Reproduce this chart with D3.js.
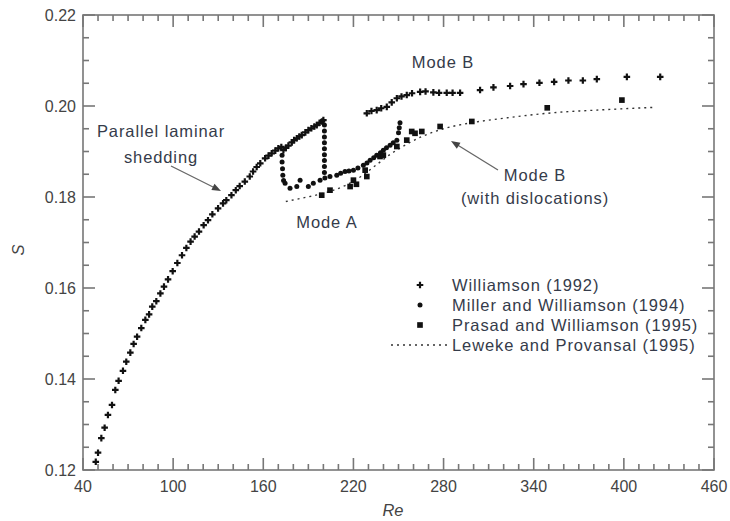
<!DOCTYPE html>
<html>
<head>
<meta charset="utf-8">
<script src="https://cdn.jsdelivr.net/npm/d3@7"></script>
<style>
  body { margin: 0; background: #fff; }
  text { font-family: "Liberation Sans", Arial, sans-serif; }
</style>
</head>
<body>
<div id="chart"></div>
<script>

// Williamson (1992) - laminar branch, upper mode A, mode B
var williamson92 = [
  [48.5,.1218],[50,.1238],[52.2,.1270],[54.4,.1293],[56.6,.1321],[59.3,.1343],[61.5,.1376],
  [63.7,.1396],[66.6,.1418],[68.8,.1438],[71.5,.1458],[73.7,.1477],[76,.1493],[78.8,.1512],
  [81.5,.1530],[84,.1542],[86.1,.1559],[88.8,.1571],[91.5,.1588],[93.9,.1603],[96.6,.1619],
  [99.7,.1637],[102.8,.1655],[105.9,.1672],[108.8,.1688],[111.6,.1702],[114.3,.1713],
  [117.2,.1724],[120.3,.1738],[123.2,.1749],[126.1,.1762],[129.9,.1775],[133.2,.1786],
  [135.4,.1793],[138.8,.1804],[141.7,.1815],[144.3,.1824],[147.7,.1834],[151,.1845],
  [153.2,.1856],[155.6,.1866],[158,.1874],[161.2,.1885],[163.5,.1891],[165.6,.1896],
  [168,.1902],[170,.1907],[172,.1910],
  [173.4,.1903],[175,.1908],[176.7,.1913],[179,.1920],[180.5,.1925],[182.3,.1929],[184,.1933],
  [185.6,.1936],[188,.1942],[190,.1947],[192,.1951],[194,.1955],[195.6,.1958],[197.5,.1963],
  [199,.1966],[200,.1969],
  [228.9,.1984],[232,.1989],[235.5,.1991],[238.5,.1995],[242.2,.1998],[245.5,.2008],
  [248.9,.2017],[252,.2021],[255.5,.2024],[259,.2028],[264.4,.2031],[268,.2032],[273.2,.2030],
  [277,.2029],[282.1,.2029],[286,.2029],[291,.2029],
  [304.3,.2035],[313.2,.2041],[324.3,.2044],[333.2,.2048],[343.8,.2051],[353.6,.2053],
  [363.1,.2056],[372.7,.2056],[382,.2059],[402,.2064],[424.2,.2064]
];

// Miller and Williamson (1994) - transitions and lower mode A branch
var miller94 = [
  [172.5,.1892],[172.5,.1877],[172.8,.1862],[173,.1848],[173.5,.1836],
  [174.5,.1830],[177.8,.1819],[182.3,.1823],[184.5,.1837],[190,.1823],[193.3,.1830],
  [197.8,.1837],[201,.1842],[204.4,.1845],[208.9,.1848],[211.5,.1852],[214.4,.1856],
  [217,.1857],[220,.1859],[223,.1864],[226.6,.1870],[229,.1875],[231.1,.1881],
  [233.5,.1886],[235.5,.1892],[238,.1897],[239.9,.1903],[242,.1908],[244.4,.1914],
  [246.5,.1919],[248.9,.1925],
  [200.7,.1958],[200.7,.1945],[200.7,.1932],[200.7,.1919],[200.7,.1906],[200.7,.1893],
  [200.7,.1880],[200.7,.1867],[200.7,.1854],
  [250,.1941],[250.5,.1952],[251,.1963]
];

// Prasad and Williamson (1995) - mode B with dislocations
var prasad95 = [
  [198.9,.1804],[204.4,.1815],[217.8,.1823],[220,.1837],[222,.1828],[228.9,.1845],
  [227.8,.1859],[237.7,.1889],[239.9,.1892],[248.9,.1911],[255.5,.1925],[258.8,.1944],
  [261,.1940],[265.5,.1944],[277.7,.1955],[298.8,.1966],[349,.1996],[398.7,.2013]
];

// Leweke and Provansal (1995) - fit line
var leweke95 = [
  [175,.1790],[185,.1797],[195,.1804],[205,.1813],[215,.1826],[225,.1845],[235,.1870],
  [245,.1895],[255,.1915],[265,.1932],[280,.1950],[300,.1964],[320,.1973],[340,.1981],
  [360,.1987],[382,.1991],[400,.1994],[420,.1997]
];

var xTicks = [40, 100, 160, 220, 280, 340, 400, 460];
var yTicks = [0.12, 0.14, 0.16, 0.18, 0.20, 0.22];

var legendNames = ["Williamson (1992)", "Miller and Williamson (1994)",
  "Prasad and Williamson (1995)", "Leweke and Provansal (1995)"];

var width = 730, height = 521;
var plotLeft = 83, plotRight = 714, plotTop = 15, plotBottom = 470;
var ink = "#111";
var axisColor = "#777";
var textColor = "#353b4a";
var labelSize = 16.5, labelSpacing = 0.9;

var svg = d3.select("#chart").append("svg")
  .attr("width", width)
  .attr("height", height);

var x = d3.scaleLinear().domain([40, 460]).range([plotLeft, plotRight]);
var y = d3.scaleLinear().domain([0.12, 0.22]).range([plotBottom, plotTop]);

// minor ticks
var xMinor = d3.range(40, 461, 10);
var yMinor = d3.range(0, 21).map(function (i) { return 0.12 + i * 0.005; });

function isMajorX(v) { return Math.abs((v - 40) % 60) < 1e-6; }
function isMajorY(v) { var k = Math.round(v * 1000); return k % 20 == 0; }

var axes = svg.append("g")
  .attr("stroke", axisColor)
  .attr("stroke-width", 1.6)
  .attr("fill", "none");

axes.append("rect")
  .attr("x", plotLeft).attr("y", plotTop)
  .attr("width", plotRight - plotLeft).attr("height", plotBottom - plotTop);

xMinor.forEach(function (v) {
  var len = isMajorX(v) ? 12 : 6;
  axes.append("line").attr("x1", x(v)).attr("x2", x(v)).attr("y1", plotBottom).attr("y2", plotBottom - len);
  axes.append("line").attr("x1", x(v)).attr("x2", x(v)).attr("y1", plotTop).attr("y2", plotTop + len);
});

yMinor.forEach(function (v) {
  var len = isMajorY(v) ? 12 : 6;
  axes.append("line").attr("y1", y(v)).attr("y2", y(v)).attr("x1", plotLeft).attr("x2", plotLeft + len);
  axes.append("line").attr("y1", y(v)).attr("y2", y(v)).attr("x1", plotRight).attr("x2", plotRight - len);
});

// tick labels
svg.append("g").selectAll("text")
  .data(xTicks)
  .enter().append("text")
  .attr("x", function (d) { return x(d); })
  .attr("y", plotBottom + 22)
  .attr("text-anchor", "middle")
  .attr("font-size", 16)
  .attr("fill", "#444")
  .text(function (d) { return d; });

svg.append("g").selectAll("text")
  .data(yTicks)
  .enter().append("text")
  .attr("x", plotLeft - 7)
  .attr("y", function (d) { return y(d) + 5.5; })
  .attr("text-anchor", "end")
  .attr("font-size", 16)
  .attr("fill", "#444")
  .text(function (d) { return d.toFixed(2); });

// axis titles
svg.append("text")
  .attr("x", 393).attr("y", 516)
  .attr("text-anchor", "middle")
  .attr("font-size", 16.5)
  .attr("font-style", "italic")
  .attr("fill", "#444")
  .text("Re");

svg.append("text")
  .attr("transform", "translate(24,250) rotate(-90)")
  .attr("text-anchor", "middle")
  .attr("font-size", 16.5)
  .attr("font-style", "italic")
  .attr("fill", "#444")
  .text("S");

// Leweke line
var line = d3.line()
  .x(function (d) { return x(d[0]); })
  .y(function (d) { return y(d[1]); })
  .curve(d3.curveMonotoneX);

svg.append("path")
  .datum(leweke95)
  .attr("d", line)
  .attr("fill", "none")
  .attr("stroke", "#333")
  .attr("stroke-width", 1.4)
  .attr("stroke-dasharray", "2,4");

var symW = d3.symbol().type(d3.symbolCross).size(24);
var symP = d3.symbol().type(d3.symbolSquare).size(32);

svg.append("g").selectAll("path")
  .data(williamson92)
  .enter().append("path")
  .attr("d", symW)
  .attr("transform", function (d) { return "translate(" + x(d[0]) + "," + y(d[1]) + ")"; })
  .attr("fill", ink);

svg.append("g").selectAll("circle")
  .data(miller94)
  .enter().append("circle")
  .attr("cx", function (d) { return x(d[0]); })
  .attr("cy", function (d) { return y(d[1]); })
  .attr("r", 2.5)
  .attr("fill", ink);

svg.append("g").selectAll("path")
  .data(prasad95)
  .enter().append("path")
  .attr("d", symP)
  .attr("transform", function (d) { return "translate(" + x(d[0]) + "," + y(d[1]) + ")"; })
  .attr("fill", ink);

// annotations
var notes = svg.append("g")
  .attr("font-size", labelSize)
  .attr("letter-spacing", labelSpacing)
  .attr("fill", textColor)
  .attr("text-anchor", "middle");

notes.append("text").attr("x", 161).attr("y", 137).text("Parallel laminar");
notes.append("text").attr("x", 161).attr("y", 163).text("shedding");
notes.append("text").attr("x", 327).attr("y", 228).text("Mode A");
notes.append("text").attr("x", 443).attr("y", 68).text("Mode B");
notes.append("text").attr("x", 535).attr("y", 181).text("Mode B");
notes.append("text").attr("x", 535).attr("y", 204).text("(with dislocations)");

function arrow(x1, y1, x2, y2) {
  var a = Math.atan2(y2 - y1, x2 - x1);
  var L = 9, W = 3.5;
  svg.append("line")
    .attr("x1", x1).attr("y1", y1)
    .attr("x2", x2 - Math.cos(a) * L * 0.8).attr("y2", y2 - Math.sin(a) * L * 0.8)
    .attr("stroke", "#666").attr("stroke-width", 1.3);
  var bx = x2 - Math.cos(a) * L, by = y2 - Math.sin(a) * L;
  svg.append("path")
    .attr("d", "M" + x2 + "," + y2 +
      "L" + (bx - Math.sin(a) * W) + "," + (by + Math.cos(a) * W) +
      "L" + (bx + Math.sin(a) * W) + "," + (by - Math.cos(a) * W) + "Z")
    .attr("fill", "#444");
}

arrow(171, 166, 221, 191);
arrow(498, 170, 451, 141);

// legend
var lg = svg.append("g");
var lx = 420, textX = 452;
var rows = [285, 305, 325, 345];

lg.append("path").attr("d", symW).attr("transform", "translate(" + lx + "," + rows[0] + ")").attr("fill", ink);
lg.append("circle").attr("cx", lx).attr("cy", rows[1]).attr("r", 2.5).attr("fill", ink);
lg.append("path").attr("d", symP).attr("transform", "translate(" + lx + "," + rows[2] + ")").attr("fill", ink);
lg.append("line")
  .attr("x1", 391).attr("x2", 447).attr("y1", rows[3]).attr("y2", rows[3])
  .attr("stroke", "#333").attr("stroke-width", 1.4).attr("stroke-dasharray", "2,4");

lg.selectAll("text")
  .data(legendNames)
  .enter().append("text")
  .attr("x", textX)
  .attr("y", function (d, i) { return rows[i] + 6; })
  .attr("font-size", labelSize)
  .attr("letter-spacing", labelSpacing)
  .attr("fill", textColor)
  .text(function (d) { return d; });

</script>
</body>
</html>
